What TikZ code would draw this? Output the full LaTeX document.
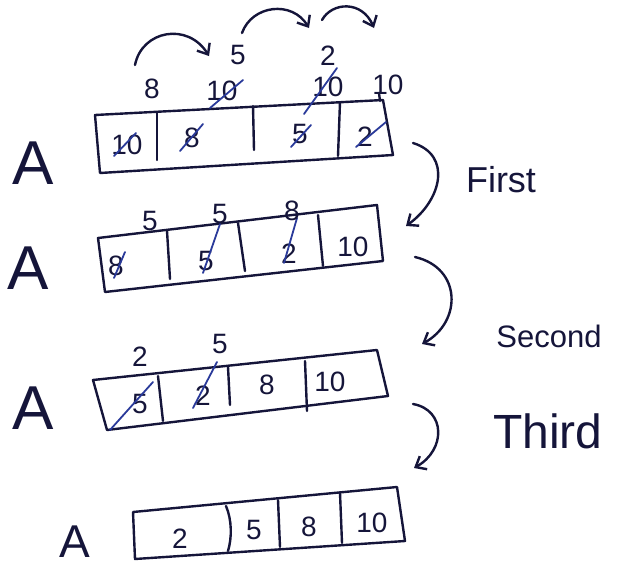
\documentclass[tikz,border=0pt]{standalone}
\usepackage{fontspec}
\setmainfont{Liberation Sans}
\usetikzlibrary{arrows.meta}
\definecolor{ink}{HTML}{15153A}
\definecolor{strikeink}{HTML}{2A3A9A}
\begin{document}
\begin{tikzpicture}[x=1pt,y=-1pt,
  pen/.style={draw=ink, line width=2.4pt, line cap=round, line join=round},
  cross/.style={draw=strikeink, line width=1.8pt, line cap=round},
  num/.style={text=ink, inner sep=0pt, font=\fontsize{28}{28}\selectfont},
  big/.style={text=ink, inner sep=0pt, font=\fontsize{62}{62}\selectfont},
  word/.style={text=ink, inner sep=0pt},
  flow/.style={pen, -{Straight Barb[length=9pt,width=15pt]}}]
\useasboundingbox (0,0) rectangle (619,571);

% ---------- labels A ----------
\node[big] (a1) at (33,163) {A};
\node[big] (a2) at (28,268) {A};
\node[big] (a3) at (33,408) {A};
\node[big, font=\fontsize{46}{46}\selectfont] (a4) at (75,542) {A};

% ---------- row 1 ----------
\coordinate (r1tl) at (95,115); \coordinate (r1tr) at (383,100);
\coordinate (r1br) at (393,155); \coordinate (r1bl) at (100,173);
\draw[pen] (r1tl) -- (r1tr) -- (r1br) -- (r1bl) -- cycle;
\draw[pen] (157,112) -- (157,160);
\draw[pen] (253,106) -- (254,150);
\draw[pen] (340,102) -- (338,156);
\node[num] (c11) at (127,145) {10};
\node[num] (c12) at (192,138) {8};
\node[num] (c13) at (300,134) {5};
\node[num] (c14) at (365,137) {2};
\draw[cross] (114,156) -- (136,133);
\draw[cross] (180,151) -- (203,124);
\draw[cross] (291,147) -- (311,125);
\draw[cross] (356,147) -- (386,122);
% values written above row 1
\node[num] (u11) at (152,89) {8};
\node[num] (u12) at (222,91) {10};
\node[num] (u13) at (238,55) {5};
\node[num] (u14) at (328,56) {2};
\node[num] (u15) at (328,87) {10};
\node[num] (u16) at (388,85) {10};
\draw[cross] (210,108) -- (243,80);
\draw[cross] (304,114) -- (337,68);
\draw[pen] (379,93) -- (380,101);
% swap arrows above row 1
\coordinate (s1a) at (135,65); \coordinate (s1b) at (209,56);
\coordinate (s2a) at (242,33); \coordinate (s2b) at (309,28);
\coordinate (s3a) at (322,20); \coordinate (s3b) at (374,28);
\draw[flow] (s1a) .. controls (142,30) and (188,22) .. (s1b);
\draw[flow] (s2a) .. controls (252,5) and (292,0) .. (s2b);
\draw[flow] (s3a) .. controls (332,2) and (362,0) .. (s3b);

% ---------- row 2 ----------
\coordinate (r2tl) at (98,238); \coordinate (r2tr) at (377,205);
\coordinate (r2br) at (383,261); \coordinate (r2bl) at (105,292);
\draw[pen] (r2tl) -- (r2tr) -- (r2br) -- (r2bl) -- cycle;
\draw[pen] (167,231) -- (170,279);
\draw[pen] (238,223) -- (245,271);
\draw[pen] (318,215) -- (323,266);
\node[num] (c21) at (116,266) {8};
\node[num] (c22) at (206,261) {5};
\node[num] (c23) at (289,254) {2};
\node[num] (c24) at (353,247) {10};
\draw[cross] (114,278) -- (125,252);
\draw[cross] (203,273) -- (220,224);
\draw[cross] (284,263) -- (297,218);
\node[num] (u21) at (150,221) {5};
\node[num] (u22) at (220,214) {5};
\node[num] (u23) at (292,211) {8};

% ---------- row 3 ----------
\coordinate (r3tl) at (93,380); \coordinate (r3tr) at (377,350);
\coordinate (r3br) at (388,396); \coordinate (r3bl) at (107,430);
\draw[pen] (r3tl) -- (r3tr) -- (r3br) -- (r3bl) -- cycle;
\draw[pen] (158,376) -- (163,421);
\draw[pen] (228,367) -- (230,405);
\draw[pen] (305,361) -- (307,411);
\node[num] (c31) at (140,404) {5};
\node[num] (c32) at (203,396) {2};
\node[num] (c33) at (267,385) {8};
\node[num] (c34) at (330,382) {10};
\draw[cross] (110,430) -- (153,382);
\draw[cross] (193,408) -- (217,362);
\node[num] (u31) at (140,357) {2};
\node[num] (u32) at (220,344) {5};

% ---------- row 4 ----------
\coordinate (r4tl) at (133,512); \coordinate (r4tr) at (397,487);
\coordinate (r4br) at (405,541); \coordinate (r4bl) at (135,559);
\draw[pen] (r4tl) -- (r4tr) -- (r4br) -- (r4bl) -- cycle;
\draw[pen] (226,506) .. controls (232,520) and (232,538) .. (228,551);
\draw[pen] (278,500) -- (280,547);
\draw[pen] (340,493) -- (342,543);
\node[num] (c41) at (180,539) {2};
\node[num] (c42) at (254,530) {5};
\node[num] (c43) at (309,527) {8};
\node[num] (c44) at (372,523) {10};

% ---------- pass arrows and words ----------
\coordinate (p1a) at (413,143); \coordinate (p1b) at (406,226);
\coordinate (p2a) at (415,257); \coordinate (p2b) at (422,344);
\coordinate (p3a) at (413,404); \coordinate (p3b) at (414,468);
\draw[flow] (p1a) .. controls (452,155) and (442,200) .. (p1b);
\draw[flow] (p2a) .. controls (462,268) and (462,322) .. (p2b);
\draw[flow] (p3a) .. controls (446,410) and (446,450) .. (p3b);
\node[word, font=\fontsize{36}{36}\selectfont] (first) at (501,180) {First};
\node[word, font=\fontsize{31}{31}\selectfont] (second) at (549,336) {Second};
\node[word, font=\fontsize{48}{48}\selectfont] (third) at (548,431) {Third};
\end{tikzpicture}
\end{document}
